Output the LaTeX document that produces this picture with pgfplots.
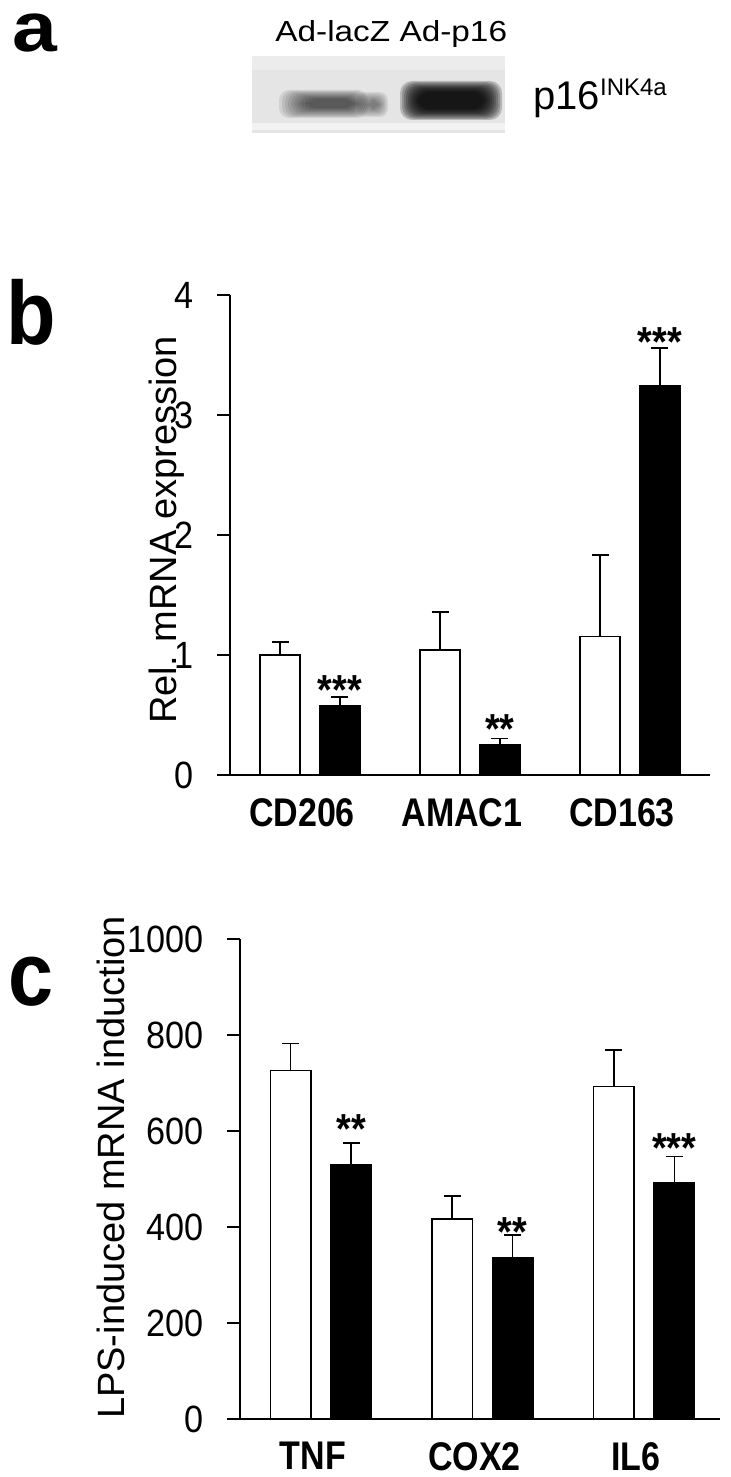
\documentclass[border=0pt]{standalone}
\usepackage{fontspec}
\setmainfont{Liberation Sans}
\newfontfamily\tfont{Liberation Sans}[FakeStretch=0.9]
\newfontfamily\cfont{Liberation Sans}[FakeStretch=0.85]
\newfontfamily\wfont{Liberation Sans}[FakeStretch=1.15]
\usepackage{pgfplots}
\pgfplotsset{compat=1.18}
\definecolor{blotbg}{RGB}{229,229,229}
\newcommand\tickfont{\tfont\fontsize{19}{19}\selectfont}
\newcommand\catfont{\cfont\bfseries\fontsize{20}{20}\selectfont}
\newcommand\labfont{\fontsize{19}{19}\selectfont}
\newcommand\starfont{\tfont\bfseries\fontsize{21}{21}\selectfont}
\pgfplotsset{
  barpanel/.style={
    scale only axis, width=240pt, height=240pt,
    xmin=-0.5, ymin=0,
    axis x line*=bottom, axis y line*=left,
    axis line style={line width=1pt, black},
    tick align=outside,
    major tick length=6.5pt,
    y tick style={line width=1pt, black},
    x tick style={draw=none},
    xtick={0,1,2},
    /pgf/number format/assume math mode=true,
    /pgf/number format/1000 sep={},
    yticklabel style={font=\tickfont, inner sep=0pt, xshift=-11.5pt},
    xticklabel style={font=\catfont, inner sep=0pt, anchor=north, yshift=-5pt, xshift=-4pt},
    clip=false,
  },
  whitebar/.style={ybar, bar width=0.25, bar shift=0pt, fill=white, draw=black, line width=0.75pt,
    error bars/.cd, y dir=plus, y explicit,
    error bar style={line width=0.75pt, black},
    error mark options={rotate=90, mark size=4.25pt, line width=0.75pt, black}},
  blackbar/.style={ybar, bar width=0.25, bar shift=0pt, fill=black, draw=black, line width=0.75pt,
    error bars/.cd, y dir=plus, y explicit,
    error bar style={line width=0.75pt, black},
    error mark options={rotate=90, mark size=4.25pt, line width=0.75pt, black}},
}
\begin{document}
\begin{tikzpicture}
\path[use as bounding box] (0pt,0pt) rectangle (365pt,-738.5pt);

% ---------------- panel a ----------------
\node[anchor=base west, inner sep=0pt] at (6pt,-26pt) {\wfont\bfseries\fontsize{35}{35}\selectfont a};
\begin{axis}[at={(126pt,-66.5pt)}, anchor=south west, scale only axis,
  width=126.5pt, height=38.5pt, xmin=252, xmax=505, ymin=-133, ymax=-56, hide axis]
  \fill[blotbg] (axis cs:252,-133) rectangle (axis cs:505,-56);
  \fill[white, opacity=0.5] (axis cs:252,-130) rectangle (axis cs:505,-123);
  \fill[white, opacity=0.3] (axis cs:252,-70) rectangle (axis cs:505,-56);
  % left band (Ad-lacZ): soft layered blob
  \pgfplotsinvokeforeach{0,...,9}{
    \fill[black, opacity=0.085, rounded corners=5pt]
      (axis cs:{279+3*#1},{-118+1.1*#1}) rectangle (axis cs:{368-1.5*#1},{-90-1.0*#1});
  }
  % darker spot at right end of the left band
  \pgfplotsinvokeforeach{0,...,7}{
    \fill[black, opacity=0.07, rounded corners=4pt]
      (axis cs:{357+1.6*#1},{-117+1.2*#1}) rectangle (axis cs:{388-1.3*#1},{-92-1.2*#1});
  }
  % right band (Ad-p16): strong
  \pgfplotsinvokeforeach{0,...,9}{
    \fill[black, opacity=0.2, rounded corners=6pt]
      (axis cs:{400+2*#1},{-120+1.2*#1}) rectangle (axis cs:{502-2*#1},{-81-1.2*#1});
  }
\end{axis}
\node[anchor=base west, inner sep=0pt] at (137.5pt,-21pt) {\wfont\fontsize{14.5}{14.5}\selectfont Ad-lacZ Ad-p16};
\node[anchor=base west, inner sep=0pt] at (266.5pt,-55pt) {\fontsize{20}{20}\selectfont p16\raisebox{7pt}{\fontsize{12}{12}\selectfont INK4a}};

% ---------------- panel b ----------------
\node[anchor=base west, inner sep=0pt] at (3pt,-172pt) {\tfont\bfseries\fontsize{45}{45}\selectfont b};
\begin{axis}[barpanel, at={(115pt,-387.5pt)}, anchor=south west,
  xmax=2.5, ymax=4, ytick={0,1,2,3,4},
  xticklabels={CD206,AMAC1,CD163},
  ylabel={Rel. mRNA expression},
  every axis y label/.style={at={(axis description cs:-0.1125,0.5104)}, rotate=90, anchor=base, font=\labfont, inner sep=0pt},
]
  \addplot[whitebar] coordinates {(-0.187,1.00) +- (0,0.11) (0.813,1.04) +- (0,0.32) (1.813,1.155) +- (0,0.68)};
  \addplot[blackbar] coordinates {(0.187,0.575) +- (0,0.075) (1.187,0.256) +- (0,0.05) (2.187,3.24) +- (0,0.32)};
  \draw[line width=1pt] (axis cs:-0.5,0) -- ++(-6.5pt,0pt);
  \node[anchor=base, inner sep=0pt] at (axis cs:0.187,0.585) {\starfont ***};
  \node[anchor=base, inner sep=0pt] at (axis cs:1.187,0.26) {\starfont **};
  \node[anchor=base, inner sep=0pt] at (axis cs:2.187,3.485) {\starfont ***};
\end{axis}

% ---------------- panel c ----------------
\node[anchor=base west, inner sep=0pt] at (4pt,-502.5pt) {\tfont\bfseries\fontsize{45}{45}\selectfont c};
\begin{axis}[barpanel, at={(120pt,-709.5pt)}, anchor=south west,
  xmax=2.47, ymax=1000, ytick={0,200,400,600,800,1000},
  xticklabels={TNF,COX2,IL6},
  ylabel={LPS-induced mRNA induction},
  every axis y label/.style={at={(axis description cs:-0.2396,0.524)}, rotate=90, anchor=base, font=\labfont, inner sep=0pt},
]
  \addplot[whitebar] coordinates {(-0.187,726) +- (0,56) (0.813,417) +- (0,48) (1.813,693) +- (0,76)};
  \addplot[blackbar] coordinates {(0.187,529) +- (0,46) (1.187,335) +- (0,48) (2.187,492) +- (0,55)};
  \draw[line width=1pt] (axis cs:-0.5,0) -- ++(-6.5pt,0pt);
  \node[anchor=base, inner sep=0pt] at (axis cs:0.187,573) {\starfont **};
  \node[anchor=base, inner sep=0pt] at (axis cs:1.187,358.5) {\starfont **};
  \node[anchor=base, inner sep=0pt] at (axis cs:2.187,533.5) {\starfont ***};
\end{axis}
\end{tikzpicture}
\end{document}
